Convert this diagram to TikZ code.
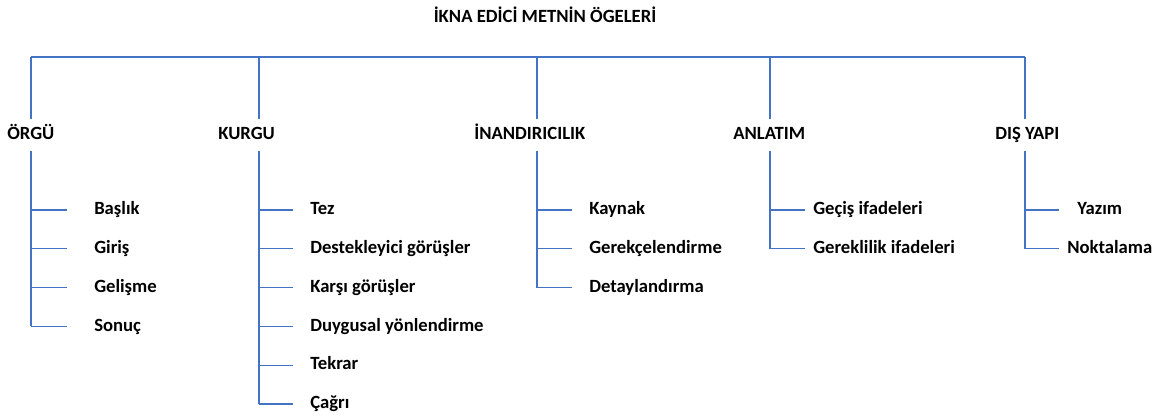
\documentclass[tikz,border=0pt]{standalone}
\usepackage{fontspec}
\setmainfont{Carlito}
\usetikzlibrary{positioning}

\definecolor{linkblue}{RGB}{68,114,196}

\tikzset{
	every node/.style={font=\bfseries\fontsize{14}{17}\selectfont, inner sep=0pt, text height=10pt, text depth=3pt},
	head/.style={anchor=west, inner ysep=5pt},
	item/.style={anchor=west},
	under/.style={below=of #1.west, anchor=west},
	link/.style={draw=linkblue, line width=0.8pt}
}

\begin{document}
\begin{tikzpicture}[x=0.75pt,y=-0.75pt,node distance=29.1pt]

	\useasboundingbox (0,0) rectangle (1158,417);

	\node (title) at (545,18) {İKNA EDİCİ METNİN ÖGELERİ};

	% top bar
	\coordinate (t1) at (31,57);
	\coordinate (t2) at (259,57);
	\coordinate (t3) at (537,57);
	\coordinate (t4) at (770,57);
	\coordinate (t5) at (1025,57);

	\node[head] (orgu) at (7,135) {ÖRGÜ};
	\node[head] (kurgu) at (218,135) {KURGU};
	\node[head] (inan) at (474,135) {İNANDIRICILIK};
	\node[head] (anlatim) at (733,135) {ANLATIM};
	\node[head] (dis) at (995,135) {DIŞ YAPI};

	% children
	\node[item] (baslik) at (94,210) {Başlık};
	\node[item, under=baslik] (giris) {Giriş};
	\node[item, under=giris] (gelisme) {Gelişme};
	\node[item, under=gelisme] (sonuc) {Sonuç};

	\node[item] (tez) at (310,210) {Tez};
	\node[item, under=tez] (destek) {Destekleyici görüşler};
	\node[item, under=destek] (karsi) {Karşı görüşler};
	\node[item, under=karsi] (duygu) {Duygusal yönlendirme};
	\node[item, under=duygu] (tekrar) {Tekrar};
	\node[item, under=tekrar] (cagri) {Çağrı};

	\node[item] (kaynak) at (589,210) {Kaynak};
	\node[item, under=kaynak] (gerekce) {Gerekçelendirme};
	\node[item, under=gerekce] (detay) {Detaylandırma};

	\node[item] (gecis) at (813,210) {Geçiş ifadeleri};
	\node[item, under=gecis] (gerek) {Gereklilik ifadeleri};

	\node[item] (yazim) at (1077,210) {Yazım};
	\node[item, under=yazim, xshift=-7.5pt] (nokta) {Noktalama};

	\draw[link] (t1) -- (t5);
	\path[link]
	(t1) edge (t1 |- orgu.north)
	(t2) edge (t2 |- kurgu.north)
	(t3) edge (t3 |- inan.north)
	(t4) edge (t4 |- anlatim.north)
	(t5) edge (t5 |- dis.north)

	(t1 |- orgu.south) edge (t1 |- sonuc.west)
	(t2 |- kurgu.south) edge (t2 |- cagri.west)
	(t3 |- inan.south) edge (t3 |- detay.west)
	(t4 |- anlatim.south) edge (t4 |- gerek.west)
	(t5 |- dis.south) edge (t5 |- nokta.west)
	;

	\foreach \c in {baslik,giris,gelisme,sonuc}
		\draw[link, shorten >=20pt] (t1 |- \c.west) -- (\c.west);
	\foreach \c in {tez,destek,karsi,duygu,tekrar,cagri}
		\draw[link, shorten >=12.5pt] (t2 |- \c.west) -- (\c.west);
	\foreach \c in {kaynak,gerekce,detay}
		\draw[link, shorten >=12.5pt] (t3 |- \c.west) -- (\c.west);
	\foreach \c in {gecis,gerek}
		\draw[link, shorten >=6pt] (t4 |- \c.west) -- (\c.west);
	\draw[link, shorten >=13.5pt] (t5 |- yazim.west) -- (yazim.west);
	\draw[link, shorten >=6pt] (t5 |- nokta.west) -- (nokta.west);

\end{tikzpicture}
\end{document}
